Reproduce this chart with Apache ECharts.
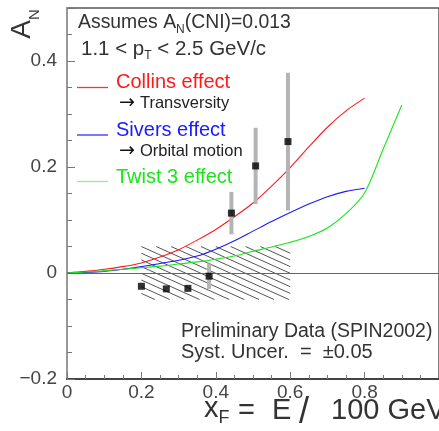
<!DOCTYPE html>
<html><head><meta charset="utf-8">
<script src="https://cdn.jsdelivr.net/npm/echarts@6/dist/echarts.min.js"></script>
<style>html,body{margin:0;padding:0;background:#fff}#c{width:439px;height:431px}</style>
</head><body><div id="c"></div>
<script>
// ---- data ----
const curveX   = [0,0.05,0.1,0.15,0.2,0.25,0.3,0.35,0.4,0.45,0.5,0.55,0.6,0.65,0.7,0.75,0.8];
const collinsA = [0,0.003,0.007,0.012,0.019,0.03,0.044,0.062,0.082,0.106,0.132,0.164,0.199,0.238,0.275,0.306,0.33];
const siversA  = [0,0.001,0.003,0.007,0.012,0.018,0.024,0.032,0.045,0.061,0.079,0.097,0.114,0.13,0.144,0.154,0.16];
const twist3X  = [0,0.05,0.1,0.15,0.2,0.25,0.3,0.35,0.4,0.45,0.5,0.55,0.6,0.65,0.7,0.75,0.8,0.85,0.9];
const twist3A  = [0,0.002,0.004,0.007,0.01,0.013,0.017,0.021,0.026,0.032,0.041,0.049,0.058,0.069,0.085,0.112,0.151,0.234,0.317];
const dataX    = [0.2,0.267,0.325,0.382,0.442,0.507,0.594];
const dataA    = [-0.025,-0.03,-0.029,-0.006,0.113,0.202,0.248];
const dataErr  = [0,0,0,0.024,0.04,0.072,0.13];
const systBox  = [0.2,0.6,-0.05,0.05]; // xFrom, xTo, yFrom, yTo
const legendNames = ['Collins effect','Sivers effect','Twist 3 effect'];
const legendNotes = ['Transversity','Orbital motion'];

const FONT = '"Liberation Sans", Arial, Helvetica, sans-serif';
const TXT = '#333';
const RED = '#ff1a1a', BLUE = '#1a1aff', GREEN = '#19e619';

const pairs = (xs, ys) => xs.map((x,i)=>[x, ys[i]]);

const chart = echarts.init(document.getElementById('c'), null, {renderer:'canvas'});

function hatchItem(params, api){
  const p0 = api.coord([api.value(0), api.value(3)]);
  const p1 = api.coord([api.value(1), api.value(2)]);
  const left=p0[0], top=p0[1], right=p1[0], bottom=p1[1];
  const m = 0.45, vs = 6.7;
  const children = [];
  for (let c = -m*(right-left); c < bottom-top; c += vs){
    const xs = Math.max(left, left + (-c)/m);
    const xe = Math.min(right, left + (bottom-top-c)/m);
    if (xe > xs + 0.5){
      children.push({type:'line', shape:{x1:xs, y1:top+c+m*(xs-left), x2:xe, y2:top+c+m*(xe-left)},
        style:{stroke:'#555', lineWidth:1}});
    }
  }
  return {type:'group', children};
}

function errItem(params, api){
  const x = api.value(0), y = api.value(1), e = api.value(2);
  if (!e) return null;
  const t = api.coord([x, y+e]), b = api.coord([x, y-e]);
  return {type:'rect', shape:{x:t[0]-2, y:t[1], width:4, height:b[1]-t[1]}, style:{fill:'#b4b4b4'}};
}

const noteRich = {
  ar:{fontFamily:'"DejaVu Sans", sans-serif', fontSize:19, fill:'#111', padding:[0,5,0,0]},
  t:{fontFamily:FONT, fontSize:16.5, fill:'#222'}
};

const option = {
  animation:false,
  backgroundColor:'#fff',
  grid:{left:67, top:8, width:376.5, height:371, show:true, borderColor:'#555', borderWidth:1.5, backgroundColor:'transparent'},
  xAxis:{
    type:'value', min:0, max:1, interval:0.2,
    axisLine:{show:true, onZero:false, lineStyle:{color:'#444', width:2}},
    axisTick:{show:true, inside:true, length:7, lineStyle:{color:'#777', width:1}},
    minorTick:{show:true, splitNumber:4, length:4, lineStyle:{color:'#777', width:1}},
    splitLine:{show:false},
    axisLabel:{fontFamily:FONT, fontSize:19, color:'#444', margin:4, showMaxLabel:false,
      formatter:v=> v===0 ? '0' : String(+v.toFixed(1))}
  },
  yAxis:{
    type:'value', min:-0.2, max:0.5, interval:0.2,
    axisLine:{show:true, onZero:false, lineStyle:{color:'#999', width:2}},
    axisTick:{show:true, inside:true, length:8, lineStyle:{color:'#777', width:1}},
    minorTick:{show:true, splitNumber:4, length:5, lineStyle:{color:'#777', width:1}},
    splitLine:{show:false},
    axisLabel:{fontFamily:FONT, fontSize:19, color:'#444', margin:10, showMaxLabel:false,
      formatter:v=> v===0 ? '0' : (v<0 ? '\u2212'+(+Math.abs(v).toFixed(1)) : String(+v.toFixed(1)))}
  },
  series:[
    {type:'custom', name:'syst', renderItem:hatchItem, data:[systBox], encode:{x:[0,1], y:[2,3]}, z:1, silent:true},
    {type:'line', name:'zero', data:[], z:2,
      markLine:{silent:true, symbol:'none', label:{show:false}, lineStyle:{color:'#666', width:1, type:'solid'}, data:[{yAxis:0}], animation:false}},
    {type:'line', name:legendNames[0], data:pairs(curveX, collinsA), showSymbol:false, smooth:0.3, lineStyle:{color:RED, width:1.1}, z:3},
    {type:'line', name:legendNames[1], data:pairs(curveX, siversA), showSymbol:false, smooth:0.3, lineStyle:{color:BLUE, width:1.1}, z:3},
    {type:'line', name:legendNames[2], data:pairs(twist3X, twist3A), showSymbol:false, smooth:0.3, lineStyle:{color:GREEN, width:1.1}, z:3},
    {type:'custom', name:'err', renderItem:errItem, data:dataX.map((x,i)=>[x, dataA[i], dataErr[i]]), encode:{x:0, y:1}, z:4, silent:true},
    {type:'scatter', name:'data', data:pairs(dataX, dataA), symbol:'rect', symbolSize:7, itemStyle:{color:'#000'}, z:5}
  ],
  graphic:[
    // y axis title A_N (rotated)
    {type:'text', x:34.5, y:24, rotation:Math.PI/2, style:{text:'{a|A}{n|N}', align:'center', verticalAlign:'middle',
      rich:{a:{fontFamily:FONT, fontSize:28, lineHeight:34, verticalAlign:'top', fill:TXT},
            n:{fontFamily:FONT, fontSize:15, lineHeight:52, verticalAlign:'middle', fill:TXT}}}},
    // notes
    {type:'text', x:78, y:30, style:{text:'{m|Assumes A}{s|N}{m|(CNI)=0.013}', verticalAlign:'middle',
      rich:{m:{fontFamily:FONT, fontSize:19.4, lineHeight:24, verticalAlign:'top', fill:TXT},
            s:{fontFamily:FONT, fontSize:12, lineHeight:34, verticalAlign:'middle', fill:TXT}}}},
    {type:'text', x:81, y:56, style:{text:'{m|1.1 < p}{s|T}{m| < 2.5 GeV/c}', verticalAlign:'middle',
      rich:{m:{fontFamily:FONT, fontSize:20.5, lineHeight:24, verticalAlign:'top', fill:TXT},
            s:{fontFamily:FONT, fontSize:12, lineHeight:34, verticalAlign:'middle', fill:TXT}}}},
    // legend
    {type:'line', shape:{x1:77, y1:87.5, x2:108, y2:87.5}, style:{stroke:'#ff3030', lineWidth:1.3}},
    {type:'text', x:116, y:82, style:{text:legendNames[0], fontFamily:FONT, fontSize:20, fill:RED, verticalAlign:'middle'}},
    {type:'text', x:119, y:103.5, style:{text:'{ar|\u2192}{t|'+legendNotes[0]+'}', verticalAlign:'middle', rich:noteRich}},
    {type:'line', shape:{x1:77, y1:135, x2:108, y2:135}, style:{stroke:'#3030ff', lineWidth:1.3}},
    {type:'text', x:116, y:130, style:{text:legendNames[1], fontFamily:FONT, fontSize:20, fill:BLUE, verticalAlign:'middle'}},
    {type:'text', x:119, y:151.5, style:{text:'{ar|\u2192}{t|'+legendNotes[1]+'}', verticalAlign:'middle', rich:noteRich}},
    {type:'line', shape:{x1:77, y1:181.5, x2:108, y2:181.5}, style:{stroke:'#90f090', lineWidth:1.3}},
    {type:'text', x:116, y:177, style:{text:legendNames[2], fontFamily:FONT, fontSize:20, fill:GREEN, verticalAlign:'middle'}},
    {type:'text', x:181, y:331.5, style:{text:'Preliminary Data (SPIN2002)', fontFamily:FONT, fontSize:19.5, fill:TXT, verticalAlign:'middle'}},
    {type:'text', x:181, y:352.5, style:{text:'Syst. Uncer.  =  \u00b10.05', fontFamily:FONT, fontSize:20, fill:TXT, verticalAlign:'middle'}},
    // x axis title
    {type:'text', x:204, y:418, style:{text:'{m|x}{s|F}', verticalAlign:'middle',
      rich:{m:{fontFamily:FONT, fontSize:29, lineHeight:34, verticalAlign:'top', fill:TXT},
            s:{fontFamily:FONT, fontSize:18, lineHeight:48, verticalAlign:'middle', fill:TXT}}}},
    {type:'text', x:238, y:411, style:{text:'=', fontFamily:FONT, fontSize:29, fill:TXT, verticalAlign:'middle'}},
    {type:'text', x:272, y:411, style:{text:'E', fontFamily:FONT, fontSize:29, fill:TXT, verticalAlign:'middle'}},
    {type:'text', x:299, y:413, style:{text:'/', fontFamily:FONT, fontSize:36, fill:TXT, verticalAlign:'middle'}},
    {type:'text', x:331, y:411, style:{text:'100 GeV', fontFamily:FONT, fontSize:29, fill:TXT, verticalAlign:'middle'}}
  ]
};
chart.setOption(option);
</script>
</body></html>
